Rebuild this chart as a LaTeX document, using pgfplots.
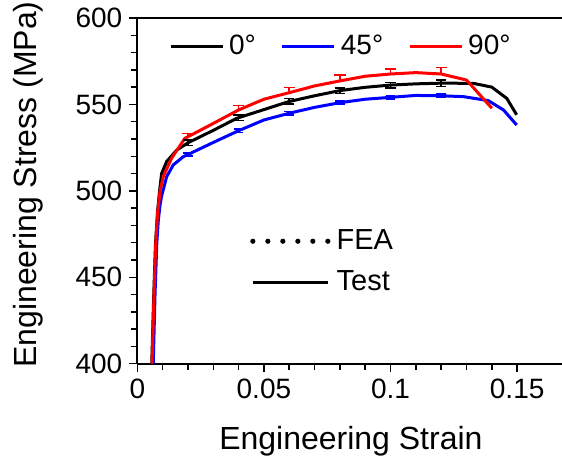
\documentclass[border=0pt]{standalone}
\usepackage{pgfplots}
\pgfplotsset{compat=1.18}
\usepackage{fontspec}
\setmainfont{Liberation Sans}
\definecolor{myred}{RGB}{255,0,0}
\definecolor{myblue}{RGB}{0,0,255}
\begin{document}
\begin{tikzpicture}
\begin{axis}[
 name=ax,
 scale only axis, width=212.35pt, height=172.85pt,
 xmin=0, xmax=0.1677, ymin=400, ymax=600,
 axis x line*=box, axis y line*=left,
 axis line style={-, line width=1pt},
 xtick={0,0.05,0.1,0.15}, ytick={400,450,...,600},
 minor x tick num=4, minor y tick num=4,
 xtick pos=bottom, ytick pos=left,
 tick align=outside, major tick length=4pt, minor tick length=3pt,
 every tick/.style={black, line width=0.75pt},
 xticklabel style={/pgf/number format/fixed, /pgf/number format/precision=2},
 scaled x ticks=false,
 /pgf/number format/assume math mode=true,
 tick label style={font=\fontsize{14}{16}\selectfont},
 xlabel={Engineering Strain}, ylabel={Engineering Stress (MPa)},
 label style={font=\fontsize{16}{19}\selectfont},
 xlabel style={at={([yshift=-43pt]axis description cs:0.503,0)}, anchor=base},
 ylabel style={at={([xshift=-50.6pt]axis description cs:0,0.518)}, anchor=base},
 legend columns=3,
 legend style={at={(axis description cs:0.074,0.917)}, anchor=west, draw=none, fill=none,
   font=\fontsize{14}{16}\selectfont, inner sep=0pt, nodes={inner sep=2.5pt},
   /tikz/every even column/.append style={column sep=10pt}},
 legend image code/.code={\draw[#1, line width=1.5pt] (0pt,0pt) -- (26pt,0pt);},
 line join=round,
]
\coordinate (O) at (rel axis cs:0,0);
\addplot[black, line width=1.5pt] coordinates {
(0.0057,400) (0.0065,440) (0.0072,470) (0.0080,488) (0.0088,500) (0.0096,510)
(0.0116,517) (0.0156,523.6) (0.0200,527.8) (0.0300,535.0) (0.0393,542.0)
(0.0500,547.0) (0.0597,551.6) (0.0700,555.0) (0.0800,558.0) (0.0900,559.9)
(0.1000,561.2) (0.1100,561.9) (0.1200,562.3) (0.1327,562.2) (0.1400,560.0)
(0.1459,553.5) (0.1498,544.0)};
\addlegendentry{0°}
\addplot[myblue, line width=1.5pt] coordinates {
(0.0063,400) (0.0070,440) (0.0077,469.7) (0.0083,483) (0.0090,492) (0.0096,497)
(0.0116,508.2) (0.0142,515) (0.0182,519.8) (0.0200,521) (0.0300,528.0)
(0.0400,534.8) (0.0500,541.0) (0.0600,544.9) (0.0700,548.3) (0.0800,551.0)
(0.0900,553.0) (0.1000,554.1) (0.1100,555.2) (0.1200,555.0) (0.1288,554.5)
(0.1386,552.2) (0.1446,546.8) (0.1498,538.1)};
\addlegendentry{45°}
\addplot[myred, line width=1.5pt] coordinates {
(0.0058,400) (0.0066,440) (0.0073,470) (0.0080,487) (0.0090,500) (0.0103,508.5)
(0.0136,519) (0.0188,530.4) (0.0200,531.3) (0.0300,539.0) (0.0400,546.8)
(0.0500,553.0) (0.0600,556.8) (0.0700,560.7) (0.0800,563.6) (0.0900,566.3)
(0.1000,567.6) (0.1100,568.4) (0.1200,567.6) (0.1300,564.1) (0.1400,547.8)};
\addlegendentry{90°}
% error bars
\addplot[black, draw=none, mark=none, forget plot,
 error bars/.cd, y dir=both, y explicit,
 error bar style={line width=0.75pt, draw=black},
 error mark options={draw=black, rotate=90, mark size=2.6pt, line width=0.75pt}]
coordinates {
(0.02,527.8) +- (0,1.6) (0.04,542.3) +- (0,1.6) (0.06,551.7) +- (0,1.6)
(0.08,558.0) +- (0,1.6) (0.10,561.2) +- (0,1.6) (0.12,562.3) +- (0,1.9)};
\addplot[myblue, draw=none, mark=none, forget plot,
 error bars/.cd, y dir=both, y explicit,
 error bar style={line width=0.75pt, draw=myblue},
 error mark options={draw=myblue, rotate=90, mark size=2.4pt, line width=0.75pt}]
coordinates {
(0.02,521.0) +- (0,0.9) (0.04,534.8) +- (0,0.9) (0.06,544.9) +- (0,0.9)
(0.08,551.0) +- (0,0.9) (0.10,554.1) +- (0,0.9) (0.12,555.0) +- (0,0.9)};
\addplot[myred, draw=none, mark=none, forget plot,
 error bars/.cd, y dir=plus, y explicit,
 error bar style={line width=0.75pt, draw=myred},
 error mark options={draw=myred, rotate=90, mark size=2.8pt, line width=0.75pt}]
coordinates {
(0.02,531.3) +- (0,2.0) (0.04,546.8) +- (0,2.5) (0.06,556.8) +- (0,3.0)
(0.08,563.6) +- (0,3.4) (0.10,567.6) +- (0,3.0) (0.12,567.6) +- (0,3.7)};
\end{axis}
\begin{axis}[
 scale only axis, width=212.35pt, height=172.85pt,
 xmin=0, xmax=1, ymin=0, ymax=1, hide axis,
 legend style={at={(axis description cs:0.265,0.295)}, anchor=west, draw=none, fill=none,
   font=\fontsize{14.5}{17}\selectfont, inner sep=0pt, nodes={inner sep=3pt}, row sep=3pt},
 legend cell align=left,
 legend image code/.code={\draw[#1] (0pt,0pt) -- (37.6pt,0pt);},
]
\addlegendimage{black, line width=2.6pt, line cap=round, dash pattern=on 0pt off 7.5pt}
\addlegendentry{FEA}
\addlegendimage{black, line width=1.5pt}
\addlegendentry{Test}
\end{axis}
\pgfresetboundingbox
\path[use as bounding box] ([shift={(-68.65pt,-48.15pt)}]O) rectangle ([shift={(212.35pt,181.85pt)}]O);
\end{tikzpicture}
\end{document}
